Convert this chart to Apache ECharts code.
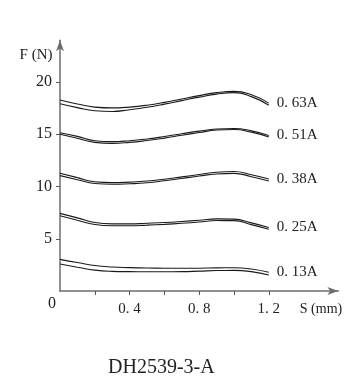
<!DOCTYPE html>
<html>
<head>
<meta charset="utf-8">
<script src="https://cdn.jsdelivr.net/npm/echarts@6/dist/echarts.min.js"></script>
<style>html,body{margin:0;padding:0;background:#fff;}#c{width:356px;height:379px;}</style>
</head>
<body>
<div id="c"></div>
<script>
const sValues = [0, 0.1, 0.2, 0.3, 0.4, 0.5, 0.6, 0.7, 0.8, 0.9, 1.0, 1.1, 1.2];
const currents = ['0. 63A', '0. 51A', '0. 38A', '0. 25A', '0. 13A'];
const upperF = [
  [18.28, 17.9, 17.6, 17.52, 17.6, 17.78, 18.05, 18.38, 18.7, 18.98, 19.1, 18.78, 17.98],
  [15.15, 14.8, 14.38, 14.29, 14.38, 14.55, 14.78, 15.05, 15.3, 15.5, 15.55, 15.32, 14.88],
  [11.26, 10.85, 10.45, 10.37, 10.42, 10.52, 10.7, 10.92, 11.15, 11.36, 11.43, 11.12, 10.72],
  [7.43, 7.0, 6.55, 6.42, 6.42, 6.48, 6.55, 6.65, 6.77, 6.9, 6.88, 6.52, 6.08],
  [3.03, 2.72, 2.44, 2.3, 2.24, 2.2, 2.18, 2.17, 2.18, 2.21, 2.22, 2.1, 1.79]
];
const lowerF = [
  [17.92, 17.55, 17.25, 17.18, 17.35, 17.58, 17.88, 18.22, 18.55, 18.84, 18.98, 18.6, 17.78],
  [15.0, 14.62, 14.22, 14.13, 14.22, 14.4, 14.63, 14.9, 15.16, 15.4, 15.45, 15.2, 14.74],
  [11.04, 10.65, 10.28, 10.21, 10.26, 10.36, 10.55, 10.77, 11.0, 11.2, 11.26, 10.94, 10.53],
  [7.2, 6.77, 6.36, 6.24, 6.24, 6.3, 6.38, 6.48, 6.6, 6.74, 6.73, 6.35, 5.9],
  [2.58, 2.28, 2.0, 1.88, 1.85, 1.84, 1.84, 1.85, 1.9, 1.96, 1.97, 1.85, 1.53]
];
const xTicks = [0.2, 0.4, 0.6, 0.8, 1.0, 1.2];
const xLabelValues = [0.4, 0.8, 1.2];
const xLabelTexts = ['0. 4', '0. 8', '1. 2'];
const yTicks = [5, 10, 15, 20];
const yLabelTexts = ['5', '10', '15', '20'];
const xName = 'S (mm)';
const yName = 'F (N)';
const originLabel = '0';
const chartTitle = 'DH2539-3-A';

const FONT = '"Liberation Serif", "DejaVu Serif", serif';
const chart = echarts.init(document.getElementById('c'), null, {renderer: 'canvas'});

const series = [];
currents.forEach((name, i) => {
  series.push({
    type: 'line', name: name + ' upper', smooth: 0.5, symbol: 'none',
    lineStyle: {color: '#1a1a1a', width: 1.1},
    data: sValues.map((s, j) => [s, upperF[i][j]]),
    endLabel: {show: true, formatter: () => name, distance: 8,
      fontFamily: FONT, fontSize: 15, color: '#222'}
  });
  series.push({
    type: 'line', name: name + ' lower', smooth: 0.5, symbol: 'none',
    lineStyle: {color: '#1a1a1a', width: 1.1},
    data: sValues.map((s, j) => [s, lowerF[i][j]])
  });
});

chart.setOption({
  animation: false,
  backgroundColor: '#fff',
  title: {text: chartTitle, left: 103, top: 353,
    textStyle: {fontFamily: FONT, fontSize: 20, fontWeight: 'normal', color: '#222'}},
  grid: {left: 60, top: 40.2, right: 17.6, bottom: 88, containLabel: false},
  xAxis: {
    type: 'value', min: 0, max: 1.6,
    axisLine: {show: true, symbol: ['none', 'arrow'], symbolSize: [6, 11],
      lineStyle: {color: '#6e6e6e', width: 1.5}},
    axisTick: {show: true, customValues: xTicks, length: 4, inside: false,
      lineStyle: {color: '#555', width: 1}},
    axisLabel: {show: true, customValues: xLabelValues, margin: 11,
      formatter: v => { const k = xLabelValues.findIndex(x => Math.abs(x - v) < 1e-6); return k >= 0 ? xLabelTexts[k] : ''; },
      fontFamily: FONT, fontSize: 15, color: '#222'},
    splitLine: {show: false}
  },
  yAxis: {
    type: 'value', min: 0, max: 24,
    axisLine: {show: true, symbol: ['none', 'arrow'], symbolSize: [6, 11],
      lineStyle: {color: '#6e6e6e', width: 1.5}},
    axisTick: {show: true, customValues: yTicks, length: 4, inside: false,
      lineStyle: {color: '#555', width: 1}},
    axisLabel: {show: true, customValues: yTicks, margin: 8,
      formatter: v => { const k = yTicks.indexOf(v); return k >= 0 ? yLabelTexts[k] : ''; },
      fontFamily: FONT, fontSize: 16, color: '#222'},
    splitLine: {show: false}
  },
  graphic: [
    {type: 'text', x: 36, y: 55, style: {text: yName, font: '15px ' + FONT, fill: '#222', align: 'center', verticalAlign: 'middle'}},
    {type: 'text', x: 321, y: 309, style: {text: xName, font: '14px ' + FONT, fill: '#222', align: 'center', verticalAlign: 'middle'}},
    {type: 'text', x: 52, y: 304, style: {text: originLabel, font: '16px ' + FONT, fill: '#222', align: 'center', verticalAlign: 'middle'}}
  ],
  series: series
});
</script>
</body>
</html>
